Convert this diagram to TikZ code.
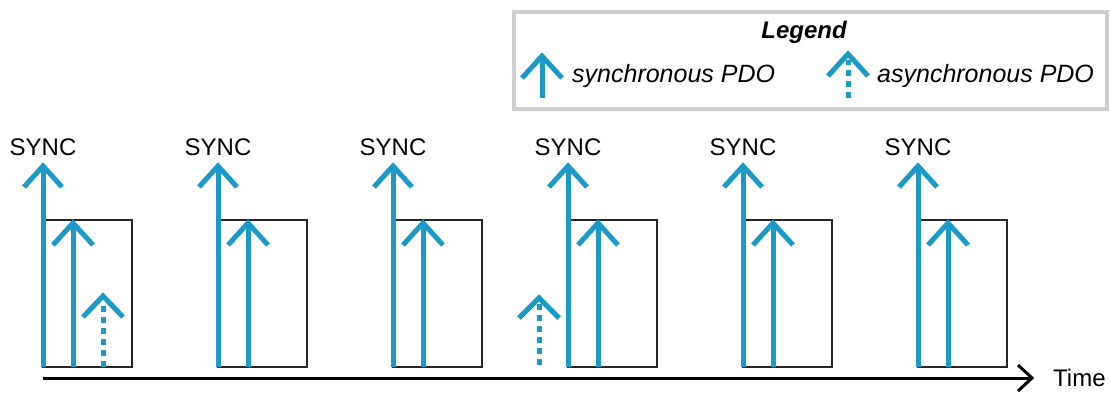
\documentclass[tikz,border=0pt]{standalone}
\usepackage{fontspec}
\setmainfont{Liberation Sans}
\definecolor{pdoblue}{HTML}{1B9AC8}
\definecolor{legendgray}{HTML}{CFCFCF}
\begin{document}
\begin{tikzpicture}[x=1pt,y=-1pt,
  pdo/.style={draw=pdoblue,line width=5pt,line cap=butt,line join=miter},
  asyncpdo/.style={draw=pdoblue,line width=5pt,dash pattern=on 6pt off 5pt},
  slotbox/.style={draw=black!85,line width=1.5pt},
  lbl/.style={inner sep=0pt,font=\fontsize{24}{28}\selectfont},
  legtxt/.style={inner sep=0pt,font=\fontsize{25}{30}\selectfont\itshape}]
\useasboundingbox (0,0) rectangle (1110,392);
% legend
\node[draw=legendgray,line width=4pt,fill=white,minimum width=593pt,minimum height=97pt,anchor=north west,inner sep=0pt] (legend) at (512,10) {};
\node[lbl,anchor=base,font=\fontsize{24}{28}\selectfont\bfseries\itshape] (legtitle) at (804,38) {Legend};
\draw[pdo] (542,98) -- (542,57);
\draw[pdo] (522,78) -- (542,56) -- (562,78);
\node[legtxt,anchor=base west] (syncleg) at (572,82) {synchronous PDO};
\draw[asyncpdo] (848,98) -- (848,60);
\draw[pdo] (828,76) -- (848,54) -- (868,76);
\node[legtxt,anchor=base west] (asyncleg) at (877,82) {asynchronous PDO};
% periods
\foreach \i in {0,...,5}{
  \pgfmathsetmacro{\X}{43+175*\i}
  \node[lbl,anchor=base] (sync\i) at (\X,155) {SYNC};
  \draw[slotbox] (\X,220) rectangle (\X+89,367);
  \draw[pdo] (\X,367) -- (\X,167);
  \draw[pdo] (\X-19,187) -- (\X,166) -- (\X+19,187);
  \draw[pdo] (\X+30,367) -- (\X+30,224);
  \draw[pdo] (\X+10,245) -- (\X+30,223) -- (\X+50,245);
}
% asynchronous PDOs
\draw[asyncpdo] (103,367) -- (103,301);
\draw[pdo] (83,317) -- (103,296) -- (123,317);
\draw[asyncpdo] (539,365) -- (539,303);
\draw[pdo] (519,318) -- (539,298) -- (559,318);
% time axis
\coordinate (t0) at (43,378);
\coordinate (t1) at (1032,378);
\draw[line width=3pt] (t0) -- (t1);
\draw[line width=3pt,line join=miter] (1018,365) -- (t1) -- (1018,391);
\node[lbl,anchor=base west] (time) at (1053,386) {Time};
\end{tikzpicture}
\end{document}
